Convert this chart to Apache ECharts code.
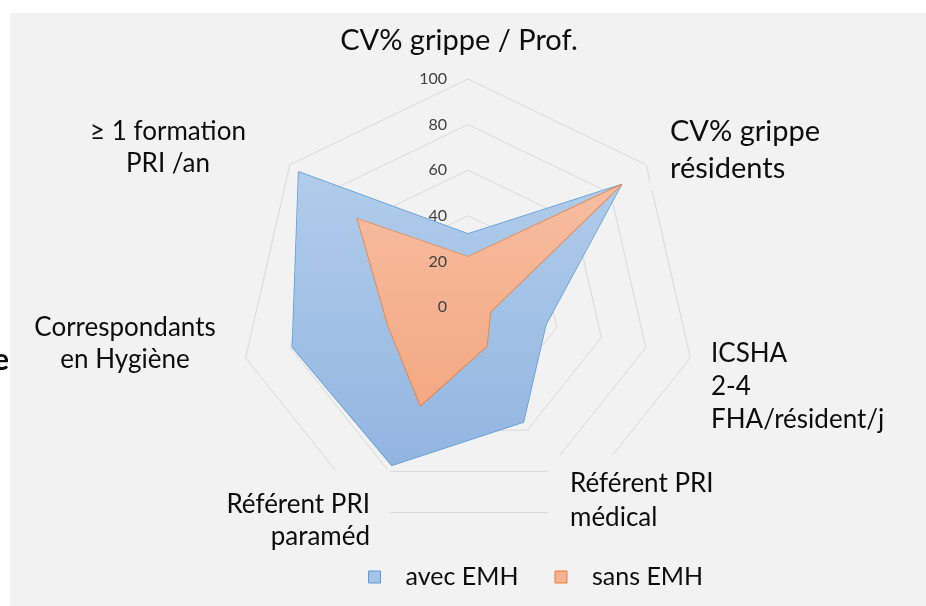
<!DOCTYPE html>
<html><head><meta charset="utf-8">
<script src="https://cdn.jsdelivr.net/npm/echarts@6/dist/echarts.min.js"></script>
<style>
html,body{margin:0;padding:0;background:#fff;overflow:hidden;}
#panel{position:absolute;left:10px;top:13px;width:916px;height:593px;background:#f2f2f2;}
#chart{position:absolute;left:0;top:0;width:926px;height:606px;}
</style></head><body>
<div id="panel"></div><div id="chart"></div>
<script>
// ---- data (clockwise from the top axis, as in the reference) ----
const categories = [
  'CV% grippe / Prof.',
  'CV% grippe\nrésidents',
  'ICSHA\n2-4\nFHA/résident/j',
  'Référent PRI\nmédical',
  'Référent PRI\nparaméd',
  'Correspondants\nen Hygiène',
  '≥ 1 formation\nPRI /an'
];
const seriesNames = ['avec EMH', 'sans EMH'];
const avecEMH = [32, 86, 35, 56, 77, 79, 95];
const sansEMH = [22, 86, 10, 19, 48, 36, 62];
const tickLabels = ['0', '20', '40', '60', '80', '100'];
const strayText = 'e';

// ---- layout / style ----
const FONT = 'Lato';
const TXT = '#0d0d0d';
const n = categories.length;
// ECharts radar runs counter-clockwise; reorder so the picture runs clockwise
const order = categories.map((_, i) => (n - i) % n);
const reorder = arr => order.map(i => arr[i]);

const labelLayout = [
  {x: 459, base: 50,  align: 'center', size: 29, lh: 36},
  {x: 670, base: 141, align: 'left',   size: 29, lh: 37},
  {x: 711, base: 362, align: 'left',   size: 26, lh: 33},
  {x: 570, base: 492, align: 'left',   size: 26, lh: 34},
  {x: 370, base: 513, align: 'right',  size: 26, lh: 32},
  {x: 125, base: 336, align: 'center', size: 26, lh: 32},
  {x: 168, base: 140, align: 'center', size: 26, lh: 32}
];
const masks = [
  [650, 110, 180, 80],
  [694, 330, 210, 110],
  [548, 455, 175, 92],
  [220, 470, 170, 85]
];

const graphics = [];
masks.forEach(m => graphics.push({
  type: 'rect', z: 90, silent: true,
  shape: {x: m[0], y: m[1], width: m[2], height: m[3]},
  style: {fill: '#f2f2f2'}
}));
categories.forEach((c, i) => {
  const L = labelLayout[i];
  graphics.push({
    type: 'text', z: 100, silent: true,
    style: {
      text: c, x: L.x, y: L.base - 0.32 * L.size - L.lh / 2,
      align: L.align, verticalAlign: 'top',
      fontFamily: FONT, fontSize: L.size, lineHeight: L.lh, fill: TXT
    }
  });
});
graphics.push({
  type: 'text', z: 100, silent: true,
  style: {text: strayText, x: 9, y: 370 - 0.32 * 30 - 18, align: 'right', verticalAlign: 'top',
    fontFamily: FONT, fontSize: 30, fontWeight: 'bold', lineHeight: 36, fill: TXT}
});

const grad = (a, b) => new echarts.graphic.LinearGradient(0, 0, 0, 1, [{offset: 0, color: a}, {offset: 1, color: b}]);
const styles = [
  {line: '#5b9bd5', top: '#b1cceb', bottom: '#92b5e0', legend: '#a5c3e7'},
  {line: '#ed7d31', top: '#f7bda1', bottom: '#f3a882', legend: '#f5b293'}
];
const values = [avecEMH, sansEMH];

const chart = echarts.init(document.getElementById('chart'), null, {renderer: 'canvas'});
chart.setOption({
  backgroundColor: 'transparent',
  animation: false,
  textStyle: {fontFamily: FONT},
  graphic: {elements: graphics},
  legend: {
    left: 368, top: 562, padding: 0, itemGap: 36,
    itemWidth: 12, itemHeight: 12, icon: 'rect',
    textStyle: {fontFamily: FONT, fontSize: 25, color: TXT, lineHeight: 30, padding: [0, 0, 0, 20]},
    data: seriesNames.map((s, i) => ({
      name: s,
      itemStyle: {color: styles[i].legend, borderColor: styles[i].line, borderWidth: 1}
    }))
  },
  grid: {left: 468, top: 79, width: 1, height: 228, z: 10},
  xAxis: {type: 'value', show: false},
  yAxis: {
    type: 'value', z: 10,
    min: Number(tickLabels[0]), max: Number(tickLabels[tickLabels.length - 1]),
    interval: Number(tickLabels[1]) - Number(tickLabels[0]),
    axisLine: {show: false}, axisTick: {show: false}, splitLine: {show: false},
    axisLabel: {margin: 21, fontSize: 16, color: '#404040', fontFamily: FONT, padding: [6, 0, 0, 0],
      formatter: v => tickLabels[tickLabels.indexOf(String(v))]}
  },
  radar: {
    center: [468, 307], radius: 228, startAngle: 90, shape: 'polygon', splitNumber: 5,
    indicator: reorder(categories).map(c => ({name: c, min: 0, max: 100})),
    axisName: {show: false},
    axisLine: {show: false}, axisTick: {show: false}, axisLabel: {show: false},
    splitLine: {lineStyle: {color: '#d9d9d9', width: 1}},
    splitArea: {show: false}
  },
  series: [{
    type: 'radar', symbol: 'none', silent: true, z: 2,
    data: values.map((v, i) => ({
      name: seriesNames[i], value: reorder(v), symbol: 'none',
      lineStyle: {color: styles[i].line, width: 1.5},
      itemStyle: {color: styles[i].line},
      areaStyle: {color: grad(styles[i].top, styles[i].bottom), opacity: 1}
    }))
  }]
});
</script>
</body></html>
